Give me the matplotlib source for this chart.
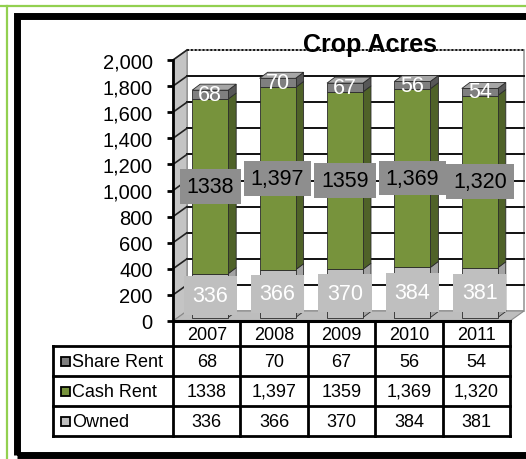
import matplotlib
matplotlib.use("Agg")
import matplotlib.pyplot as plt
from matplotlib.patches import Polygon, Rectangle
from matplotlib.lines import Line2D

plt.rcParams['font.family'] = ['Liberation Sans', 'DejaVu Sans']

# ---------------- data ----------------
years = ["2007", "2008", "2009", "2010", "2011"]
owned = [336, 366, 370, 384, 381]
cash_rent = [1338, 1397, 1359, 1369, 1320]
share_rent = [68, 70, 67, 56, 54]
owned_labels = ["336", "366", "370", "384", "381"]
cash_labels = ["1338", "1,397", "1359", "1,369", "1,320"]
share_labels = ["68", "70", "67", "56", "54"]
series_names = ["Share Rent", "Cash Rent", "Owned"]
y_ticks = [0, 200, 400, 600, 800, 1000, 1200, 1400, 1600, 1800, 2000]
y_ticklabels = ["0", "200", "400", "600", "800", "1,000", "1,200", "1,400", "1,600", "1,800", "2,000"]
title = "Crop Acres"

# ---------------- style ----------------
W, H = 526, 460
fig = plt.figure(figsize=(W / 100, H / 100), dpi=100)
fig.patch.set_facecolor("white")

def fx(px):
    return px / W

def fy(py):
    return 1 - py / H

# colours (front, side, top)
C_OWN = ("#BFBFBF", "#A3A3A3", "#D9D9D9")
C_CASH = ("#77933C", "#4F6228", "#9BBB59")
C_SHARE = ("#7F7F7F", "#575757", "#A6A6A6")
EDGE = "#2a2a2a"

# main axes: plot front plane
AX_L, AX_R, AX_T, AX_B = 173, 510, 61, 322
ax = fig.add_axes([fx(AX_L), fy(AX_B), fx(AX_R - AX_L), (AX_B - AX_T) / H])
ax.set_xlim(-0.5, len(years) - 0.5)
ax.set_ylim(0, 2000)
ax.patch.set_alpha(0)
for s in ["top", "right", "bottom"]:
    ax.spines[s].set_visible(False)
ax.spines["left"].set_linewidth(2)
ax.spines["left"].set_zorder(20)
ax.set_xticks([])
ax.set_yticks(y_ticks)
ax.set_yticklabels(y_ticklabels, fontsize=14.5)
ax.tick_params(axis="y", length=4.5, width=2, pad=10, direction="out")

WALL = (14, 10)      # depth offset of back wall in px (right, up)
BF = (3.5, 3.5)      # bar front face offset
BB = (11.5, 9.5)     # bar back face offset
HW = 0.267           # half bar width (category units)


def D(x, y, off=(0, 0)):
    X, Y = ax.transData.transform((x, y))
    return ax.transData.inverted().transform((X + off[0], Y + off[1]))


def poly(pts, fc, ec="none", lw=0.0, z=1, ls="-"):
    p = Polygon([D(*pt) for pt in pts], closed=True, facecolor=fc, edgecolor=ec,
                linewidth=lw, zorder=z, clip_on=False, linestyle=ls)
    ax.add_patch(p)
    return p


x0, x1 = -0.5, len(years) - 0.5
ymax = y_ticks[-1]
# back wall
poly([(x0, 0, WALL), (x1, 0, WALL), (x1, ymax, WALL), (x0, ymax, WALL)], "white",
     ec="#9a9a9a", lw=1.2, z=1)
# side wall
poly([(x0, 0), (x0, 0, WALL), (x0, ymax, WALL), (x0, ymax)], "#C4C4C4", ec="#888888", lw=0.8, z=2)
# floor
poly([(x0, 0), (x1, 0), (x1, 0, WALL), (x0, 0, WALL)], "#BDBDBD", ec="#8a8a8a", lw=0.8, z=2)

# gridlines
for v in y_ticks[1:]:
    a, b = D(x0, v, WALL), D(x1, v, WALL)
    ls = (0, (1, 1)) if v == ymax else "-"
    ax.add_line(Line2D([a[0], b[0]], [a[1], b[1]], color="#111111", lw=1.4, zorder=3,
                       clip_on=False, linestyle=ls))
    c = D(x0, v)
    ax.add_line(Line2D([c[0], a[0]], [c[1], a[1]], color="#222222", lw=1.2, zorder=3,
                       clip_on=False))

# x axis line (floor front edge)
ax.add_line(Line2D([x0, x1], [0, 0], color="black", lw=2.2, zorder=20, clip_on=False))


def bar_segment(i, b, t, cols, top=False):
    xl, xr = i - HW, i + HW
    poly([(xr, b, BF), (xr, b, BB), (xr, t, BB), (xr, t, BF)], cols[1], ec=EDGE, lw=0.6, z=5)
    poly([(xl, b, BF), (xr, b, BF), (xr, t, BF), (xl, t, BF)], cols[0], ec=EDGE, lw=0.6, z=6)
    if top:
        poly([(xl, t, BF), (xr, t, BF), (xr, t, BB), (xl, t, BB)], cols[2], ec=EDGE, lw=0.6, z=6)


for i in range(len(years)):
    b0 = 0
    b1 = owned[i]
    b2 = b1 + cash_rent[i]
    b3 = b2 + share_rent[i]
    bar_segment(i, b0, b1, C_OWN)
    bar_segment(i, b1, b2, C_CASH)
    bar_segment(i, b2, b3, C_SHARE, top=True)

    p = D(i, (b0 + b1) / 2, BF)
    ax.text(p[0], p[1], owned_labels[i], color="white", fontsize=15.5, ha="center", va="center",
            zorder=30, bbox=dict(boxstyle="square,pad=0.4", fc="#BFBFBF", ec="none"))
    p = D(i, (b1 + b2) / 2, BF)
    ax.text(p[0], p[1], cash_labels[i], color="black", fontsize=15.5, ha="center", va="center",
            zorder=30, bbox=dict(boxstyle="square,pad=0.32", fc="#8E8E8E", ec="none"))
    p = D(i, (b2 + b3) / 2, BF)
    ax.text(p[0], p[1], share_labels[i], color="white", fontsize=15.5, ha="center", va="center",
            zorder=30)

# title
fig.text(fx(370), fy(45), title, fontsize=18, fontweight="bold", ha="center", va="center",
         zorder=40)

# ---------------- data table ----------------
T_L, T_B = 53, 437
tax = fig.add_axes([fx(T_L), fy(T_B), fx(AX_R - T_L), (T_B - AX_B) / H])
units_per_px = len(years) / (AX_R - AX_L)
tax.set_xlim(-0.5 - (AX_L - T_L) * units_per_px, len(years) - 0.5)
row_edges = [0, 25, 55, 85, 115]
tax.set_ylim(row_edges[-1], 0)
tax.axis("off")
tax.patch.set_alpha(0)
xl_tab = -0.5 - (AX_L - T_L) * units_per_px
LW_T = 2.0
# horizontal lines
for r in row_edges[1:]:
    tax.add_line(Line2D([xl_tab, x1], [r, r], color="black", lw=LW_T, clip_on=False))
# vertical lines
tax.add_line(Line2D([xl_tab, xl_tab], [row_edges[1], row_edges[-1]], color="black", lw=LW_T,
                    clip_on=False))
for k in range(len(years) + 1):
    xv = -0.5 + k
    tax.add_line(Line2D([xv, xv], [0, row_edges[-1]], color="black", lw=LW_T, clip_on=False))

for i, yr in enumerate(years):
    tax.text(i, (row_edges[0] + row_edges[1]) / 2 + 1, yr, fontsize=13, ha="center", va="center")

table_rows = [share_labels, cash_labels, owned_labels]
key_cols = [C_SHARE[0], C_CASH[0], C_OWN[0]]
key_w = 9 * units_per_px
for r, (name, vals, kc) in enumerate(zip(series_names, table_rows, key_cols)):
    yc = (row_edges[r + 1] + row_edges[r + 2]) / 2
    for i, v in enumerate(vals):
        tax.text(i, yc + 0.5, v, fontsize=13, ha="center", va="center")
    kx = xl_tab + 8 * units_per_px
    tax.add_patch(Rectangle((kx, yc - 4.5), key_w, 9, facecolor=kc, edgecolor="black", lw=1.3,
                            clip_on=False))
    tax.text(kx + key_w + 2 * units_per_px, yc + 0.5, name, fontsize=13, ha="left", va="center")

# ---------------- frame ----------------
fig.add_artist(Line2D([0, 1], [fy(7), fy(7)], transform=fig.transFigure, color="#92D050", lw=1.6))
fig.add_artist(Line2D([fx(7), fx(7)], [fy(7), 0], transform=fig.transFigure, color="#92D050", lw=1.6))
fig.add_artist(Rectangle((fx(16.5), fy(456)), fx(700), (456 - 16.5) / H, transform=fig.transFigure,
                         facecolor="none", edgecolor="black", lw=5))

fig.savefig("out.png", dpi=100)
